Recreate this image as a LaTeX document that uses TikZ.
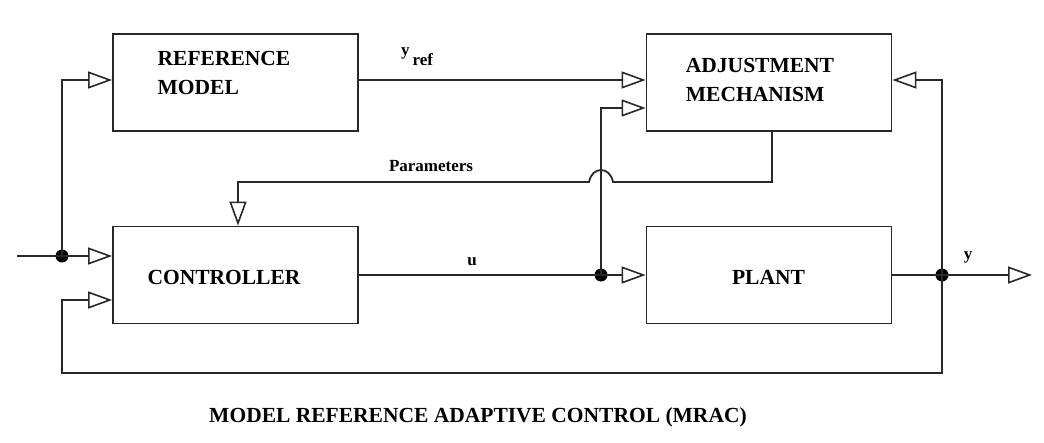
\documentclass[tikz,border=0pt]{standalone}
\usepackage{fontspec}
\setmainfont{Liberation Serif}
\usetikzlibrary{arrows.meta}
\definecolor{ln}{RGB}{40,40,40}
\begin{document}
\begin{tikzpicture}[x=1pt,y=-1pt,
  blk/.style={draw=ln, line width=1.8pt, minimum width=245pt, minimum height=97pt, inner sep=0pt},
  lbl/.style={font=\fontsize{21.5}{29}\selectfont\bfseries, inner sep=0pt, align=left},
  sig/.style={draw=ln, line width=1.8pt},
  arr/.style={sig, -{Triangle[open, length=24pt, width=17pt, line width=1.6pt]}},
  jdot/.style={circle, fill=black, inner sep=0pt, minimum size=13pt},
  small/.style={font=\fontsize{17}{20}\selectfont\bfseries, inner sep=0pt}]
\useasboundingbox (0,0) rectangle (1044,442);
% blocks
\node[blk] (ref)  at (235.5,82.5) {};
\node[blk] (ctrl) at (235.5,275) {};
\node[blk] (adj)  at (769,82.5) {};
\node[blk] (plant) at (769,275) {};
% block labels
\node[lbl] (reft) at (224,72.5) {REFERENCE\\MODEL};
\node[lbl] (ctrlt) at (224,277) {CONTROLLER};
\node[lbl] (adjt) at (760,80) {ADJUSTMENT\\MECHANISM};
\node[lbl] (plantt) at (768.5,277) {PLANT};
% helper coordinates
\coordinate (in) at (17,256);
\node[jdot] (j1) at (62,256) {};
\node[jdot] (j2) at (601,275) {};
\node[jdot] (j3) at (942,275) {};
\coordinate (out) at (1032,275);
\coordinate (ya) at (0,80);
\coordinate (yb) at (0,108);
\coordinate (yc) at (0,300);
\coordinate (fb) at (62,373);
\coordinate (p1) at (772,182);
\coordinate (h1) at (613,182);
\coordinate (h2) at (589,182);
\coordinate (p2) at (238,182);
% connectors
\draw[sig] (in) -- (j1.center);
\draw[arr] (j1.center) -- (ctrl.west |- j1);
\draw[arr] (j1.center) |- (ref.west |- ya);
\draw[arr] (ref.east |- ya) -- (adj.west |- ya);
\draw[sig] (ctrl.east) -- (j2.center);
\draw[arr] (j2.center) -- (plant.west);
\draw[arr] (j2.center) |- (adj.west |- yb);
\draw[sig] (plant.east) -- (j3.center);
\draw[arr] (j3.center) -- (out);
\draw[arr] (j3.center) |- (adj.east |- ya);
\draw[arr] (j3.center) |- (fb) |- (ctrl.west |- yc);
\draw[arr] (p1 |- adj.south) -- (p1) -- (h1) .. controls (610,166) and (592,166) .. (h2) -- (p2) -- (p2 |- ctrl.north);
% signal labels
\node[small, anchor=base west] (yref) at (401,55) {y\,\raisebox{-10pt}{ref}};
\node[small] (par) at (431,166) {Parameters};
\node[small] (u) at (472,262) {u};
\node[small] (y) at (968,257) {y};
% title
\node[font=\fontsize{21.5}{25}\selectfont\bfseries, inner sep=0pt] (title) at (478,417) {MODEL REFERENCE ADAPTIVE CONTROL (MRAC)};
\end{tikzpicture}
\end{document}
